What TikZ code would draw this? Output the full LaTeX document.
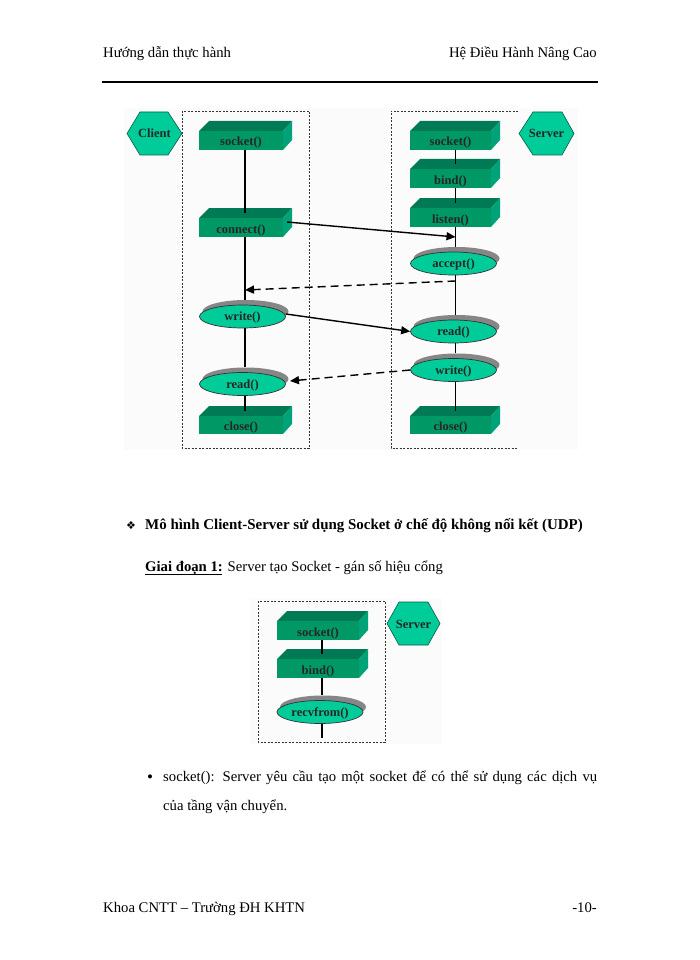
\documentclass[tikz,border=0pt]{standalone}
\usepackage{fontspec}
\setmainfont{Liberation Serif}
\newfontfamily\symfont{DejaVu Sans}
\usetikzlibrary{shapes.geometric,arrows.meta}
\definecolor{hexfill}{HTML}{00CC99}
\definecolor{frontfill}{HTML}{009966}
\definecolor{topfill}{HTML}{007A55}
\definecolor{sidefill}{HTML}{00A377}
\definecolor{hexedge}{HTML}{006048}
\definecolor{panelfill}{HTML}{FBFBFB}
\tikzset{
  pagetext/.style={inner sep=0pt,font=\fontsize{14.7}{17}\selectfont},
  flabel/.style={font=\fontsize{12.5}{14}\selectfont\bfseries,text=black!85},
  frontface/.style={rectangle,fill=frontfill,inner sep=0pt,flabel,text height=11pt,text depth=0pt},
  topface/.style={fill=topfill},
  sideface/.style={fill=sidefill},
  ovalface/.style={ellipse,fill=hexfill,draw=black!80,line width=0.7pt,inner sep=0pt,minimum width=86pt,minimum height=23pt,flabel,text height=8pt,text depth=0pt},
  hextext/.style={inner sep=0pt,flabel,text height=9pt,text depth=0pt},
  wire/.style={line width=1.2pt,black},
  msg/.style={line width=1.4pt,black,-{Triangle[length=9pt,width=8pt]}},
  msgdash/.style={msg,dash pattern=on 8pt off 5pt},
  frame/.style={line width=0.7pt,black!80,dash pattern=on 2pt off 1.5pt},
}
% name, x0, x1, y top of front, y bottom of front, label
\newcommand{\cubebox}[6]{%
  \fill[topface] (#2,#4) -- (#2+10,#4-10) -- (#3+9,#4-10) -- (#3,#4) -- cycle;
  \fill[sideface] (#3,#4) -- (#3+9,#4-10) -- (#3+9,#5-10) -- (#3,#5) -- cycle;
  \node[frontface,minimum width=#3pt-#2pt,minimum height=#5pt-#4pt] (#1) at ({(#2+#3)/2},{(#4+#5)/2}) {#6};
}
% name, x center, y center, label
\newcommand{\ovalbox}[4]{%
  \fill[gray!95] (#2+3,#3-5) ellipse [x radius=43,y radius=11.5];
  \node[ovalface] (#1) at (#2,#3) {#4};
}
% name, x0, x1, flat x0, flat x1, y0, y1, label
\newcommand{\hexbox}[8]{%
  \filldraw[fill=hexfill,draw=hexedge,line width=0.6pt] (#2,{(#6+#7)/2}) -- (#4,#6) -- (#5,#6) -- (#3,{(#6+#7)/2}) -- (#5,#7) -- (#4,#7) -- cycle;
  \node[hextext] (#1) at ({(#2+#3)/2},{(#6+#7)/2}) {#8};
}
\begin{document}
\begin{tikzpicture}[x=1pt,y=-1pt]
\useasboundingbox (0,0) rectangle (700,960);
\fill[white] (0,0) rectangle (700,960);
% page text
\node[pagetext,anchor=base west] (hl) at (103,58) {Hướng dẫn thực hành};
\node[pagetext,anchor=base east] (hr) at (597,58) {Hệ Điều Hành Nâng Cao};
\coordinate (ruleL) at (102,82);
\coordinate (ruleR) at (598,82);
\draw[line width=2.4pt] (ruleL) -- (ruleR);
\node[pagetext,anchor=base west,font=\fontsize{11}{13}\selectfont\symfont] (b1) at (126,529) {❖};
\node[pagetext,anchor=base west,font=\fontsize{14.95}{17}\selectfont\bfseries] (t1) at (145,529) {Mô hình Client-Server sử dụng Socket ở chế độ không nối kết (UDP)};
\node[pagetext,anchor=base west] (t2) at (145,571) {\textbf{Giai đoạn 1:} Server tạo Socket - gán số hiệu cổng};
\coordinate (ulL) at (145,574);
\coordinate (ulR) at (222,574);
\draw[line width=0.8pt] (ulL) -- (ulR);
\node[pagetext,anchor=base west,font=\fontsize{17}{19}\selectfont] (b2) at (147,782) {•};
\node[pagetext,anchor=base west] (t3) at (163,781) {\makebox[434pt][s]{socket(): Server yêu cầu tạo một socket để có thể sử dụng các dịch vụ}};
\node[pagetext,anchor=base west] (t4) at (163,810) {của tầng vận chuyển.};
\node[pagetext,anchor=base west] (fl) at (103,912) {Khoa CNTT – Trường ĐH KHTN};
\node[pagetext,anchor=base east] (fr) at (597,912) {-10-};
% upper panel
\fill[panelfill] (124,108) rectangle (578,450);
\draw[frame] (182,111) rectangle (309,448);
\draw[frame] (518,111) -- (391,111) -- (391,448) -- (517,448);
\hexbox{client}{127}{182}{140}{168}{112}{155}{Client}
\hexbox{server}{519}{574}{533}{562}{112}{155}{Server}
\cubebox{csock}{199}{283}{131}{150}{socket()}
\cubebox{cconn}{199}{283}{218}{237}{connect()}
\cubebox{cclose}{199}{283}{416}{434}{close()}
\ovalbox{cwrite}{242.5}{316.5}{write()}
\ovalbox{cread}{242.5}{384}{read()}
\cubebox{ssock}{410}{491}{131}{150}{socket()}
\cubebox{sbind}{410}{491}{169}{188}{bind()}
\cubebox{slist}{410}{491}{208}{227}{listen()}
\cubebox{sclose}{410}{491}{416}{434}{close()}
\ovalbox{sacc}{453.5}{263.5}{accept()}
\ovalbox{sread}{453.5}{331.5}{read()}
\ovalbox{swrite}{453.5}{370}{write()}
\coordinate (cs) at (245,0);
\coordinate (ss) at (455.5,0);
\draw[wire] (csock.south -| cs) -- ([yshift=5pt]cconn.north -| cs);
\draw[wire] (cconn.south -| cs) -- ([yshift=5pt]cwrite.north -| cs);
\draw[wire] (cwrite.south -| cs) -- ([yshift=5pt]cread.north -| cs);
\draw[wire] (cread.south -| cs) -- ([yshift=5pt]cclose.north -| cs);
\draw[wire] (ssock.south -| ss) -- ([yshift=5pt]sbind.north -| ss);
\draw[wire] (sbind.south -| ss) -- ([yshift=5pt]slist.north -| ss);
\draw[wire] (slist.south -| ss) -- ([yshift=5pt]sacc.north -| ss);
\draw[wire] (sacc.south -| ss) -- ([yshift=5pt]sread.north -| ss);
\draw[wire] (sread.south -| ss) -- ([yshift=5pt]swrite.north -| ss);
\draw[wire] (swrite.south -| ss) -- ([yshift=5pt]sclose.north -| ss);
\coordinate (cconnout) at (287,222);
\coordinate (acctarget) at (455.5,237);
\coordinate (accout) at (455.5,281);
\coordinate (ctarget) at (245,290);
\coordinate (cwriteout) at (286,314);
\coordinate (creadin) at (290,381);
\draw[msg] (cconnout) -- (acctarget);
\draw[msgdash] (accout) -- (ctarget);
\draw[msg] (cwriteout) -- (sread.west);
\draw[msgdash] (swrite.west) -- (creadin);
% lower panel
\fill[panelfill] (250,598) rectangle (442,744);
\draw[frame] (258,601) rectangle (385,742);
\hexbox{server2}{387}{440}{399}{428}{602}{645}{Server}
\cubebox{usock}{277}{359}{621}{640}{socket()}
\cubebox{ubind}{277}{359}{659}{678}{bind()}
\ovalbox{urecv}{320}{712}{recvfrom()}
\coordinate (us) at (322,0);
\coordinate (uend) at (322,738);
\draw[wire] (usock.south -| us) -- ([yshift=5pt]ubind.north -| us);
\draw[wire] (ubind.south -| us) -- ([yshift=5pt]urecv.north -| us);
\draw[wire] (urecv.south -| us) -- (uend);
\end{tikzpicture}
\end{document}
